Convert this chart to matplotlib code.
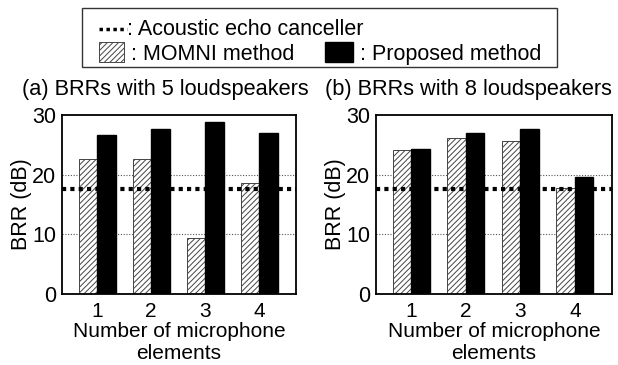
import matplotlib
matplotlib.use("Agg")
import matplotlib.pyplot as plt
import numpy as np
from matplotlib.patches import Rectangle
from matplotlib.lines import Line2D

plt.rcParams['font.family'] = ['Liberation Sans', 'DejaVu Sans']
plt.rcParams['hatch.linewidth'] = 0.7
plt.rcParams['hatch.color'] = '#444444'

# data
mics = [1, 2, 3, 4]
tick_labels = ['1', '2', '3', '4']
momni_5 = [22.6, 22.6, 9.4, 18.6]
proposed_5 = [26.7, 27.6, 28.8, 27.0]
momni_8 = [24.2, 26.2, 25.7, 17.8]
proposed_8 = [24.3, 27.0, 27.6, 19.6]
aec = 17.6
titles = ['(a) BRRs with 5 loudspeakers', '(b) BRRs with 8 loudspeakers']

FS = 15.5
FSX = 15
W, H = 618, 365
def fx(px):
    return px / W
def fy(py):
    return 1 - py / H

fig = plt.figure(figsize=(6.18, 3.65), dpi=100)
ax1 = fig.add_axes([fx(62), fy(294), fx(296) - fx(62), fy(115) - fy(294)])
ax2 = fig.add_axes([fx(376), fy(294), fx(612) - fx(376), fy(115) - fy(294)])

w = 0.34
x = np.array(mics)
for ax, mo, pr in [(ax1, momni_5, proposed_5), (ax2, momni_8, proposed_8)]:
    ax.bar(x - w / 2, mo, w, color='white', edgecolor='#444444', hatch='//////', lw=0.7, zorder=2)
    ax.bar(x + w / 2, pr, w, color='black', edgecolor='black', zorder=2)
    ax.axhline(aec, color='black', ls=(0, (1, 1)), lw=3, zorder=3)
    ax.set_xlim(0.35, 4.68)
    ax.set_ylim(0, 30)
    ax.set_yticks([0, 10, 20, 30])
    ax.set_xticks(x)
    ax.set_xticklabels(tick_labels)
    for g in [10, 20]:
        ax.axhline(g, color='#555555', ls=(0, (1, 1.5)), lw=0.8, zorder=1)
    ax.tick_params(length=0)
    ax.tick_params(axis='y', pad=4, labelsize=FS)
    ax.tick_params(axis='x', pad=5.6, labelsize=FSX)
    ax.set_ylabel('BRR (dB)', fontsize=FS, labelpad=0)
    ax.set_xlabel('Number of microphone\nelements', fontsize=FSX, labelpad=1, linespacing=1.2)
    for s in ax.spines.values():
        s.set_linewidth(1.3)

fig.text(fx(22), fy(95), titles[0], fontsize=15.7, ha='left', va='baseline')
fig.text(fx(325), fy(95), titles[1], fontsize=15.7, ha='left', va='baseline')

# legend box drawn by hand
fig.patches.append(Rectangle((fx(82), fy(67)), fx(557) - fx(82), fy(8) - fy(67),
                             transform=fig.transFigure, fill=False, ec='#333333', lw=1))
fig.lines.append(Line2D([fx(99), fx(127)], [fy(29), fy(29)], transform=fig.transFigure,
                        color='black', ls=(0, (1, 1)), lw=2.5))
fig.text(fx(127), fy(35), ': Acoustic echo canceller', fontsize=FS, va='baseline')
fig.patches.append(Rectangle((fx(99), fy(62)), fx(124) - fx(99), fy(42) - fy(62),
                             transform=fig.transFigure, fc='white', ec='#444444',
                             hatch='//////', lw=0.7))
fig.text(fx(131), fy(60), ': MOMNI method', fontsize=FS, va='baseline')
fig.patches.append(Rectangle((fx(325), fy(62)), fx(353) - fx(325), fy(42) - fy(62),
                             transform=fig.transFigure, fc='black', ec='black'))
fig.text(fx(360), fy(60), ': Proposed method', fontsize=FS, va='baseline')

fig.savefig('out.png', dpi=100)
